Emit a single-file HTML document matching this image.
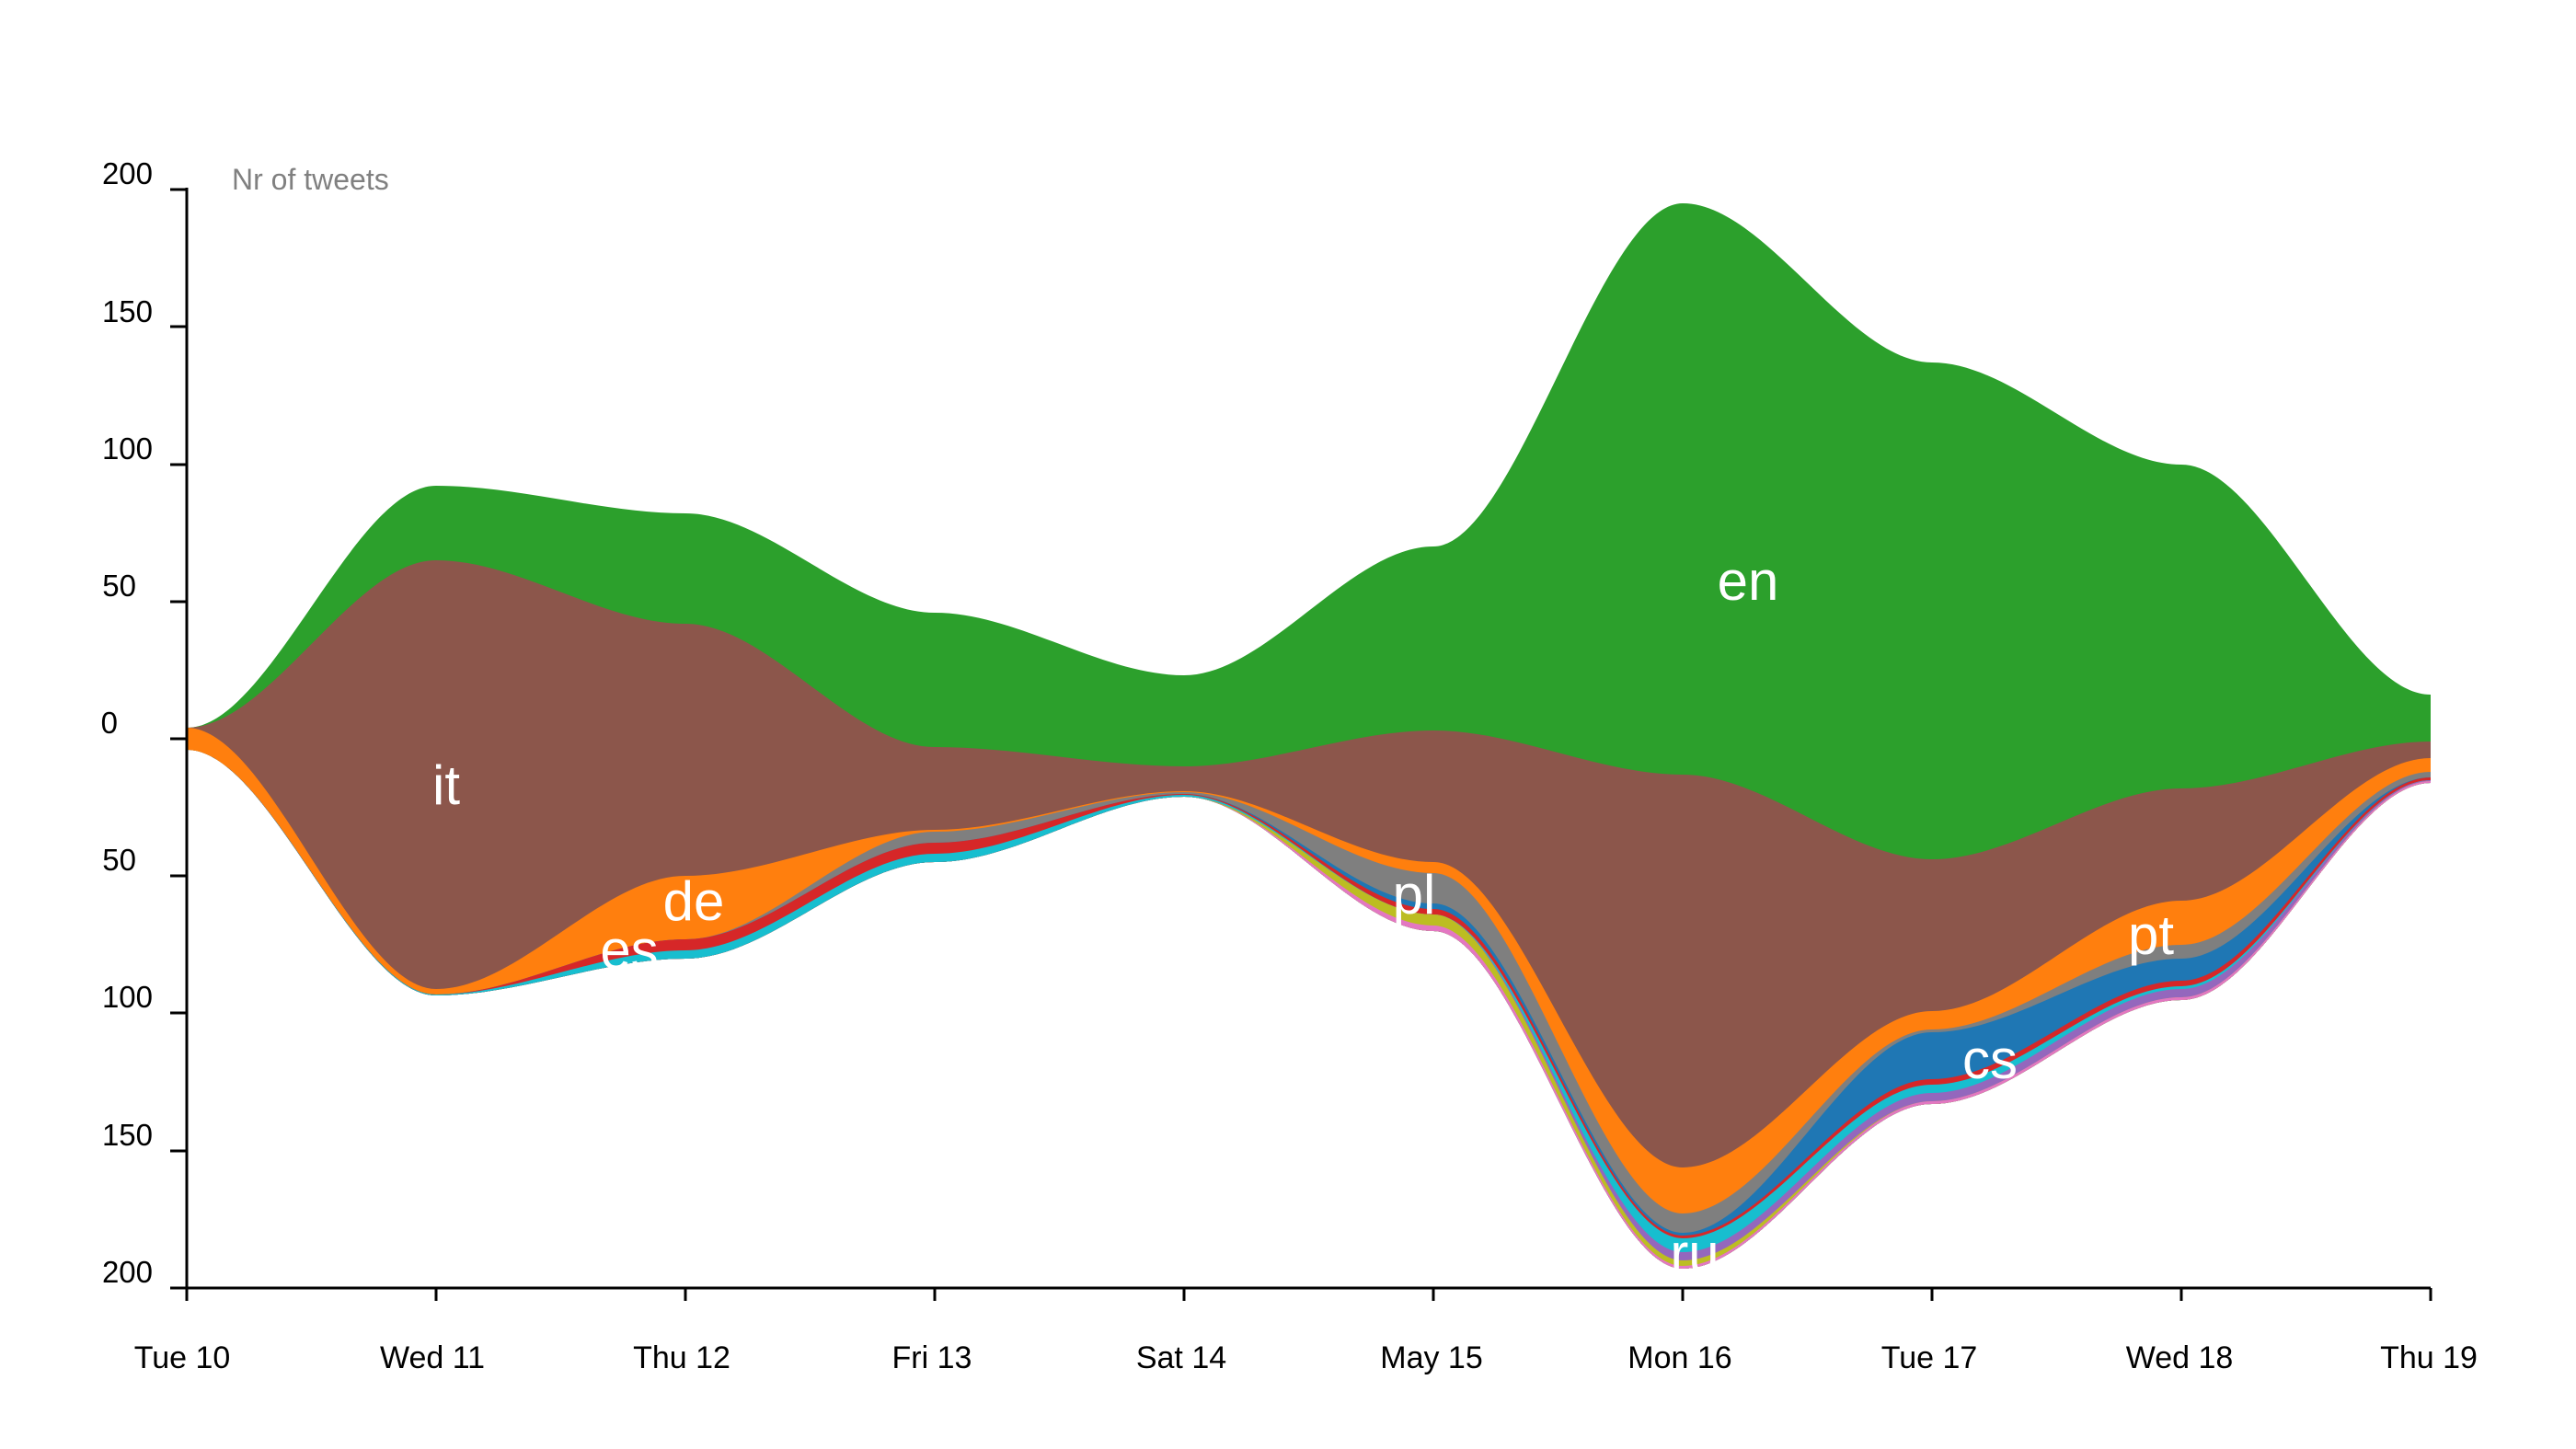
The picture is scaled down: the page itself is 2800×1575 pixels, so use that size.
<!DOCTYPE html>
<html><head><meta charset="utf-8"><style>
html,body{margin:0;padding:0;background:#fff;}
svg{display:block;}
text{font-family:"Liberation Sans",sans-serif;}
</style></head><body>
<svg width="2800" height="1575" viewBox="0 0 2800 1575" xmlns="http://www.w3.org/2000/svg">
<g>
<path fill="#2ca02c" d="M203,791 C293,791 384,528 474,528 C564,528 655,558 745,558 C835,558 926,666 1016,666 C1106,666 1197,734 1287,734 C1377,734 1468,594 1558,594 C1648,594 1739,221 1829,221 C1919,221 2010,394 2100,394 C2190,394 2281,505 2371,505 C2461,505 2552,755 2642,755 L2642,851 C2552,851 2461,1087 2371,1087 C2281,1087 2190,1200 2100,1200 C2010,1200 1919,1379 1829,1379 C1739,1379 1648,1012 1558,1012 C1468,1012 1377,866 1287,866 C1197,866 1106,937 1016,937 C926,937 835,1042 745,1042 C655,1042 564,1082 474,1082 C384,1082 293,815 203,815 Z"/>
<path fill="#8c564b" d="M203,791 C293,791 384,609 474,609 C564,609 655,678 745,678 C835,678 926,812 1016,812 C1106,812 1197,833 1287,833 C1377,833 1468,794 1558,794 C1648,794 1739,842 1829,842 C1919,842 2010,934 2100,934 C2190,934 2281,857 2371,857 C2461,857 2552,806 2642,806 L2642,851 C2552,851 2461,1087 2371,1087 C2281,1087 2190,1200 2100,1200 C2010,1200 1919,1379 1829,1379 C1739,1379 1648,1012 1558,1012 C1468,1012 1377,866 1287,866 C1197,866 1106,937 1016,937 C926,937 835,1042 745,1042 C655,1042 564,1082 474,1082 C384,1082 293,815 203,815 Z"/>
<path fill="#ff7f0e" d="M203,791 C293,791 384,1075 474,1075 C564,1075 655,952 745,952 C835,952 926,902 1016,902 C1106,902 1197,860 1287,860 C1377,860 1468,937 1558,937 C1648,937 1739,1269 1829,1269 C1919,1269 2010,1099 2100,1099 C2190,1099 2281,979 2371,979 C2461,979 2552,824 2642,824 L2642,851 C2552,851 2461,1087 2371,1087 C2281,1087 2190,1200 2100,1200 C2010,1200 1919,1379 1829,1379 C1739,1379 1648,1012 1558,1012 C1468,1012 1377,866 1287,866 C1197,866 1106,937 1016,937 C926,937 835,1042 745,1042 C655,1042 564,1082 474,1082 C384,1082 293,815 203,815 Z"/>
<path fill="#7f7f7f" d="M203,815 C293,815 384,1081 474,1081 C564,1081 655,1021 745,1021 C835,1021 926,904 1016,904 C1106,904 1197,861 1287,861 C1377,861 1468,949 1558,949 C1648,949 1739,1319 1829,1319 C1919,1319 2010,1119 2100,1119 C2190,1119 2281,1027 2371,1027 C2461,1027 2552,839 2642,839 L2642,851 C2552,851 2461,1087 2371,1087 C2281,1087 2190,1200 2100,1200 C2010,1200 1919,1379 1829,1379 C1739,1379 1648,1012 1558,1012 C1468,1012 1377,866 1287,866 C1197,866 1106,937 1016,937 C926,937 835,1042 745,1042 C655,1042 564,1082 474,1082 C384,1082 293,815 203,815 Z"/>
<path fill="#1f77b4" d="M203,815 C293,815 384,1081 474,1081 C564,1081 655,1021 745,1021 C835,1021 926,916 1016,916 C1106,916 1197,863 1287,863 C1377,863 1468,982 1558,982 C1648,982 1739,1340 1829,1340 C1919,1340 2010,1122 2100,1122 C2190,1122 2281,1042 2371,1042 C2461,1042 2552,845 2642,845 L2642,851 C2552,851 2461,1087 2371,1087 C2281,1087 2190,1200 2100,1200 C2010,1200 1919,1379 1829,1379 C1739,1379 1648,1012 1558,1012 C1468,1012 1377,866 1287,866 C1197,866 1106,937 1016,937 C926,937 835,1042 745,1042 C655,1042 564,1082 474,1082 C384,1082 293,815 203,815 Z"/>
<path fill="#d62728" d="M203,815 C293,815 384,1081 474,1081 C564,1081 655,1021 745,1021 C835,1021 926,916 1016,916 C1106,916 1197,863 1287,863 C1377,863 1468,988 1558,988 C1648,988 1739,1343 1829,1343 C1919,1343 2010,1173 2100,1173 C2190,1173 2281,1066 2371,1066 C2461,1066 2552,845 2642,845 L2642,851 C2552,851 2461,1087 2371,1087 C2281,1087 2190,1200 2100,1200 C2010,1200 1919,1379 1829,1379 C1739,1379 1648,1012 1558,1012 C1468,1012 1377,866 1287,866 C1197,866 1106,937 1016,937 C926,937 835,1042 745,1042 C655,1042 564,1082 474,1082 C384,1082 293,815 203,815 Z"/>
<path fill="#17becf" d="M203,815 C293,815 384,1081 474,1081 C564,1081 655,1033 745,1033 C835,1033 926,928 1016,928 C1106,928 1197,864 1287,864 C1377,864 1468,994 1558,994 C1648,994 1739,1346 1829,1346 C1919,1346 2010,1179 2100,1179 C2190,1179 2281,1072 2371,1072 C2461,1072 2552,848 2642,848 L2642,851 C2552,851 2461,1087 2371,1087 C2281,1087 2190,1200 2100,1200 C2010,1200 1919,1379 1829,1379 C1739,1379 1648,1012 1558,1012 C1468,1012 1377,866 1287,866 C1197,866 1106,937 1016,937 C926,937 835,1042 745,1042 C655,1042 564,1082 474,1082 C384,1082 293,815 203,815 Z"/>
<path fill="#9467bd" d="M203,815 C293,815 384,1082 474,1082 C564,1082 655,1042 745,1042 C835,1042 926,937 1016,937 C1106,937 1197,866 1287,866 C1377,866 1468,994 1558,994 C1648,994 1739,1361 1829,1361 C1919,1361 2010,1188 2100,1188 C2190,1188 2281,1075 2371,1075 C2461,1075 2552,848 2642,848 L2642,851 C2552,851 2461,1087 2371,1087 C2281,1087 2190,1200 2100,1200 C2010,1200 1919,1379 1829,1379 C1739,1379 1648,1012 1558,1012 C1468,1012 1377,866 1287,866 C1197,866 1106,937 1016,937 C926,937 835,1042 745,1042 C655,1042 564,1082 474,1082 C384,1082 293,815 203,815 Z"/>
<path fill="#bcbd22" d="M203,815 C293,815 384,1082 474,1082 C564,1082 655,1042 745,1042 C835,1042 926,937 1016,937 C1106,937 1197,866 1287,866 C1377,866 1468,994 1558,994 C1648,994 1739,1370 1829,1370 C1919,1370 2010,1197 2100,1197 C2190,1197 2281,1084 2371,1084 C2461,1084 2552,849 2642,849 L2642,851 C2552,851 2461,1087 2371,1087 C2281,1087 2190,1200 2100,1200 C2010,1200 1919,1379 1829,1379 C1739,1379 1648,1012 1558,1012 C1468,1012 1377,866 1287,866 C1197,866 1106,937 1016,937 C926,937 835,1042 745,1042 C655,1042 564,1082 474,1082 C384,1082 293,815 203,815 Z"/>
<path fill="#e377c2" d="M203,815 C293,815 384,1082 474,1082 C564,1082 655,1042 745,1042 C835,1042 926,937 1016,937 C1106,937 1197,866 1287,866 C1377,866 1468,1006 1558,1006 C1648,1006 1739,1376 1829,1376 C1919,1376 2010,1197 2100,1197 C2190,1197 2281,1084 2371,1084 C2461,1084 2552,849 2642,849 L2642,851 C2552,851 2461,1087 2371,1087 C2281,1087 2190,1200 2100,1200 C2010,1200 1919,1379 1829,1379 C1739,1379 1648,1012 1558,1012 C1468,1012 1377,866 1287,866 C1197,866 1106,937 1016,937 C926,937 835,1042 745,1042 C655,1042 564,1082 474,1082 C384,1082 293,815 203,815 Z"/>
</g>
<g stroke="#000" stroke-width="3" fill="none">
<line x1="203" y1="204" x2="203" y2="1401"/>
<line x1="185" y1="1400" x2="2642" y2="1400"/>
<line x1="185" y1="206" x2="203" y2="206"/>
<line x1="185" y1="355" x2="203" y2="355"/>
<line x1="185" y1="505" x2="203" y2="505"/>
<line x1="185" y1="654" x2="203" y2="654"/>
<line x1="185" y1="803" x2="203" y2="803"/>
<line x1="185" y1="952" x2="203" y2="952"/>
<line x1="185" y1="1101" x2="203" y2="1101"/>
<line x1="185" y1="1251" x2="203" y2="1251"/>
<line x1="203" y1="1400" x2="203" y2="1414"/>
<line x1="474" y1="1400" x2="474" y2="1414"/>
<line x1="745" y1="1400" x2="745" y2="1414"/>
<line x1="1016" y1="1400" x2="1016" y2="1414"/>
<line x1="1287" y1="1400" x2="1287" y2="1414"/>
<line x1="1558" y1="1400" x2="1558" y2="1414"/>
<line x1="1829" y1="1400" x2="1829" y2="1414"/>
<line x1="2100" y1="1400" x2="2100" y2="1414"/>
<line x1="2371" y1="1400" x2="2371" y2="1414"/>
<line x1="2642" y1="1400" x2="2642" y2="1414"/>
</g>
<g font-size="33" fill="#000" text-anchor="end">
<text x="166" y="200">200</text>
<text x="166" y="350">150</text>
<text x="166" y="499">100</text>
<text x="148" y="648">50</text>
<text x="128" y="797">0</text>
<text x="148" y="946">50</text>
<text x="166" y="1095">100</text>
<text x="166" y="1245">150</text>
<text x="166" y="1394">200</text>
</g>
<text x="252" y="206" font-size="32" fill="#808080">Nr of tweets</text>
<g font-size="34" fill="#000" text-anchor="middle">
<text x="198" y="1487">Tue 10</text>
<text x="470" y="1487">Wed 11</text>
<text x="741" y="1487">Thu 12</text>
<text x="1013" y="1487">Fri 13</text>
<text x="1284" y="1487">Sat 14</text>
<text x="1556" y="1487">May 15</text>
<text x="1826" y="1487">Mon 16</text>
<text x="2097" y="1487">Tue 17</text>
<text x="2369" y="1487">Wed 18</text>
<text x="2640" y="1487">Thu 19</text>
</g>
<g font-size="60" fill="#fff" text-anchor="middle">
<text x="485" y="874">it</text>
<text x="1900" y="652">en</text>
<text x="754" y="1000">de</text>
<text x="684" y="1053">es</text>
<text x="1537" y="993">pl</text>
<text x="1842" y="1383">ru</text>
<text x="2163" y="1172">cs</text>
<text x="2338" y="1037">pt</text>
</g>
</svg>
</body></html>
